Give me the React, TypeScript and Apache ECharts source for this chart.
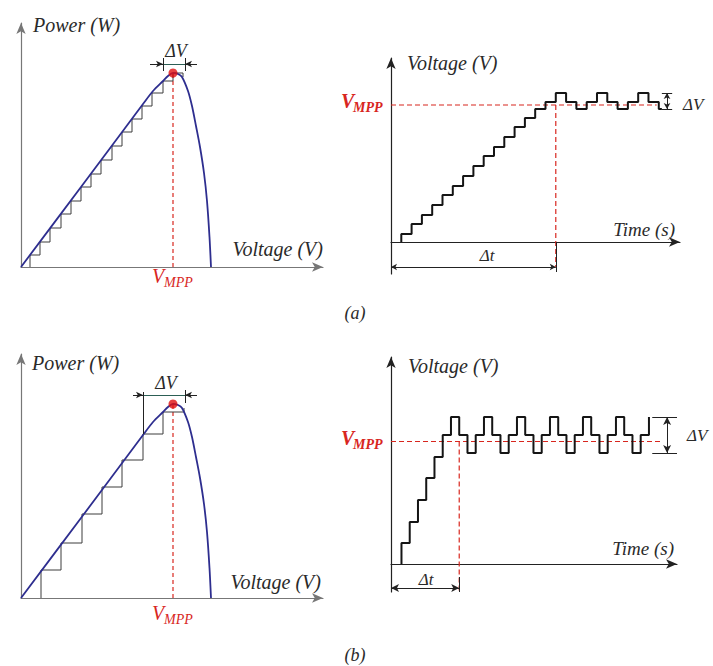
import React, { useEffect, useRef } from 'react';
import * as echarts from 'echarts';

// P–V characteristic of the PV source (voltage, power in arbitrary units)
const pvVoltage = [0, 6.0, 10.0, 12.2, 13.2, 14.2, 14.7, 15.2, 15.7, 16.1, 16.7, 17.1, 17.5, 17.9, 18.3, 18.6, 18.85, 19.0];
const pvPower = [0, 8.0, 13.35, 16.3, 17.6, 18.6, 19.1, 19.4, 19.3, 19.0, 17.6, 16.1, 14.1, 12.0, 9.4, 6.6, 3.0, 0];

// Maximum power point
const mppVoltage = 15.2;
const mppPower = 19.4;

// (a) small perturbation step: operating points climbing the P–V curve
const stairAVoltage = [0.9, 1.9, 2.9, 4.0, 5.0, 6.0, 7.0, 8.0, 9.1, 10.1, 11.1, 12.1, 13.1, 14.2, 15.2, 16.2];
const stairAPower = [1.2, 2.5, 3.9, 5.3, 6.6, 8.0, 9.3, 10.7, 12.1, 13.5, 14.8, 16.1, 17.4, 18.6, 19.4, 19.0];

// (b) large perturbation step
const stairBVoltage = [2.0, 4.0, 6.1, 8.1, 10.1, 12.2, 14.2, 16.3];
const stairBPower = [2.8, 5.5, 8.4, 11.1, 13.8, 16.4, 18.6, 19.0];

// (a) reference voltage versus time (sample index, voltage)
const waveATime = [1, 2, 3, 4, 5, 6, 7, 8, 9, 10, 11, 12, 13, 14, 15, 16, 17, 18, 19, 20, 21, 22, 23, 24, 25, 26, 26.3];
const waveALevel = [0.8, 1.8, 2.7, 3.7, 4.7, 5.6, 6.6, 7.6, 8.6, 9.5, 10.5, 11.5, 12.4, 13.3, 14.0, 14.9, 14.0, 13.3, 14.0, 14.9, 14.0, 13.3, 14.0, 14.9, 14.0, 13.3, 13.3];
const vmppLevelA = 13.7;
const settleTimeA = 16;

// (b) reference voltage versus time
const waveBTime = [1, 2, 3, 4, 5, 6, 7, 8, 9, 10, 11, 12, 13, 14, 15, 16, 17, 18, 19, 20, 21, 22, 23, 24, 25, 26, 27, 28, 29, 30, 31];
const waveBLevel = [2.1, 4.2, 6.4, 8.6, 10.7, 12.9, 14.7, 12.9, 11.1, 12.9, 14.7, 12.9, 11.1, 12.9, 14.7, 12.9, 11.1, 12.9, 14.7, 12.9, 11.1, 12.9, 14.7, 12.9, 11.1, 12.9, 14.7, 12.9, 11.1, 12.9, 14.7];
const vmppLevelB = 12.25;
const settleTimeB = 8;

const RED = '#d8261e';
const INK = '#2a2a2a';
const SERIF = '"Liberation Serif", "DejaVu Serif", serif';

const zip = (xs: number[], ys: number[]) => xs.map((x, i) => [x, ys[i]]);
const stairs = (xs: number[], ys: number[]) => [[xs[0], 0], ...zip(xs, ys)];

type Pt = [number, number];
const seg = (a: Pt, b: Pt, s0 = 'none', s1 = 'none', color = '#222', width = 1) => [
  { coord: a, symbol: s0, lineStyle: { color, width, type: 'solid' } },
  { coord: b, symbol: s1, lineStyle: { color, width, type: 'solid' } },
];

const annot = (idx: number, data: any[], size: number[] = [6, 8]) => ({
  type: 'line',
  xAxisIndex: idx,
  yAxisIndex: idx,
  data: [],
  silent: true,
  markLine: {
    silent: true,
    animation: false,
    symbolSize: size,
    label: { show: false },
    emphasis: { disabled: true },
    data,
  },
});

type TxtOpts = { size?: number; weight?: string; fill?: string; align?: string };
const txt = (text: string, x: number, y: number, opts: TxtOpts = {}) => ({
  type: 'text',
  x,
  y,
  silent: true,
  style: {
    text,
    fill: opts.fill || INK,
    font: `italic ${opts.weight || 'normal'} ${opts.size || 20}px ${SERIF}`,
    textAlign: opts.align || 'left',
    textVerticalAlign: 'middle',
  },
});

// V with an MPP subscript
const vmppLabel = (x: number, y: number, big: number, small: number, bold: boolean) => {
  const weight = bold ? 'bold' : 'normal';
  return [
    txt('V', x, y, { fill: RED, size: big, weight }),
    txt('MPP', x + big * 0.6, y + big * 0.32, { fill: RED, size: small, weight }),
  ];
};

const axisBase = (color: string, onZero: boolean) => ({
  type: 'value',
  axisTick: { show: false },
  axisLabel: { show: false },
  splitLine: { show: false },
  axisLine: {
    show: true,
    onZero,
    symbol: ['none', 'arrow'],
    symbolSize: [7, 11],
    lineStyle: { color, width: 1.2 },
  },
});

export default function App() {
  const ref = useRef<HTMLDivElement>(null);

  useEffect(() => {
    if (!ref.current) return;
    const chart = echarts.init(ref.current, null, { renderer: 'svg' });

    const pvCurve = zip(pvVoltage, pvPower);
    const curveSeries = (idx: number) => ({
      type: 'line',
      xAxisIndex: idx,
      yAxisIndex: idx,
      data: pvCurve,
      smooth: 0.3,
      symbol: 'none',
      z: 4,
      lineStyle: { color: '#2e2e8f', width: 1.8 },
    });
    const stairSeries = (idx: number, xs: number[], ys: number[]) => ({
      type: 'line',
      xAxisIndex: idx,
      yAxisIndex: idx,
      step: 'end',
      data: stairs(xs, ys),
      symbol: 'none',
      z: 3,
      lineStyle: { color: '#3c3c3c', width: 1 },
    });
    const mppDash = (idx: number) => ({
      type: 'line',
      xAxisIndex: idx,
      yAxisIndex: idx,
      data: [[mppVoltage, 0], [mppVoltage, mppPower]],
      symbol: 'none',
      z: 2,
      lineStyle: { color: RED, width: 1.2, type: [4, 3] },
    });
    const mppDot = (idx: number) => ({
      type: 'scatter',
      xAxisIndex: idx,
      yAxisIndex: idx,
      data: [[mppVoltage, mppPower]],
      symbolSize: 9,
      z: 6,
      itemStyle: { color: '#e01010' },
    });
    const waveSeries = (idx: number, ts: number[], vs: number[]) => ({
      type: 'line',
      xAxisIndex: idx,
      yAxisIndex: idx,
      step: 'end',
      data: stairs(ts, vs),
      symbol: 'none',
      z: 4,
      lineStyle: { color: '#151515', width: 2 },
    });
    const dashed = (idx: number, pts: number[][]) => ({
      type: 'line',
      xAxisIndex: idx,
      yAxisIndex: idx,
      data: pts,
      symbol: 'none',
      z: 2,
      lineStyle: { color: RED, width: 1.2, type: [5, 3] },
    });

    // ΔV indicator above the peak of the P–V panels
    const aLo = stairAVoltage[13];
    const aHi = stairAVoltage[15] + 0.2;
    const bLo = stairBVoltage[5];
    const bHi = stairBVoltage[7] + 0.1;
    const dvY = 20.3;

    const option: any = {
      animation: false,
      backgroundColor: '#fff',
      grid: [
        { left: 21, top: 23, width: 302, height: 244 },
        { left: 21, top: 354, width: 302, height: 244 },
        { left: 391, top: 58, width: 289, height: 216 },
        { left: 391, top: 357, width: 286, height: 235 },
      ],
      xAxis: [
        { ...axisBase('#777', true), gridIndex: 0, min: 0, max: 30.2 },
        { ...axisBase('#777', true), gridIndex: 1, min: 0, max: 30.2 },
        { ...axisBase('#222', true), gridIndex: 2, min: 0, max: 28.06 },
        { ...axisBase('#222', true), gridIndex: 3, min: -0.27, max: 34.4 },
      ],
      yAxis: [
        { ...axisBase('#777', false), gridIndex: 0, min: 0, max: 24.4 },
        { ...axisBase('#777', false), gridIndex: 1, min: 0, max: 24.4 },
        { ...axisBase('#222', false), gridIndex: 2, min: -3.2, max: 18.4 },
        { ...axisBase('#222', false), gridIndex: 3, min: -2.8, max: 20.7 },
      ],
      series: [
        // (a) P–V
        mppDash(0),
        stairSeries(0, stairAVoltage, stairAPower),
        curveSeries(0),
        mppDot(0),
        annot(0, [
          seg([12.9, dvY], [aLo, dvY], 'none', 'arrow'),
          seg([aHi + 1.2, dvY], [aHi, dvY], 'none', 'arrow'),
          seg([aLo, dvY], [aHi, dvY], 'none', 'none', '#2c5f55'),
          seg([aLo, 19.6], [aLo, 20.9]),
          seg([aHi, 19.6], [aHi, 20.9]),
        ], [5, 7]),
        // (b) P–V
        mppDash(1),
        stairSeries(1, stairBVoltage, stairBPower),
        curveSeries(1),
        mppDot(1),
        annot(1, [
          seg([bLo - 1.0, dvY], [bLo, dvY], 'none', 'arrow'),
          seg([bHi + 1.2, dvY], [bHi, dvY], 'none', 'arrow'),
          seg([bLo, dvY], [bHi, dvY], 'none', 'none', '#2c5f55'),
          seg([bLo, 16.4], [bLo, 20.6]),
          seg([bHi, 19.5], [bHi, 20.8]),
        ], [5, 7]),
        // (a) voltage versus time
        dashed(2, [[0, vmppLevelA], [25.8, vmppLevelA]]),
        dashed(2, [[settleTimeA, vmppLevelA], [settleTimeA, -2.5]]),
        waveSeries(2, waveATime, waveALevel),
        annot(2, [
          seg([0, -2.5], [settleTimeA, -2.5], 'arrow', 'arrow'),
          seg([settleTimeA, 0], [settleTimeA, -3.0]),
          seg([26.3, 14.9], [27.3, 14.9]),
          seg([26.3, 13.3], [27.3, 13.3]),
          seg([26.8, 13.3], [26.8, 14.9], 'arrow', 'arrow'),
        ], [5, 6]),
        // (b) voltage versus time
        dashed(3, [[-0.27, vmppLevelB], [32.4, vmppLevelB]]),
        dashed(3, [[settleTimeB, vmppLevelB], [settleTimeB, -2.8]]),
        waveSeries(3, waveBTime, waveBLevel),
        annot(3, [
          seg([-0.27, -2.4], [settleTimeB, -2.4], 'arrow', 'arrow'),
          seg([settleTimeB, -1.3], [settleTimeB, -2.8]),
          seg([31.4, 14.7], [34.4, 14.7]),
          seg([31.4, 11.1], [34.4, 11.1]),
          seg([33.2, 11.1], [33.2, 14.7], 'arrow', 'arrow'),
        ], [6, 8]),
      ],
      graphic: [
        // (a) P–V labels
        txt('Power (W)', 33, 25),
        txt('Voltage (V)', 323, 249, { align: 'right' }),
        txt('ΔV', 176, 51, { align: 'center', size: 18 }),
        ...vmppLabel(152, 276, 20, 14, false),
        // (b) P–V labels
        txt('Power (W)', 32, 363),
        txt('Voltage (V)', 321, 582, { align: 'right' }),
        txt('ΔV', 166, 383, { align: 'center', size: 18 }),
        ...vmppLabel(152, 613, 20, 14, false),
        // (a) voltage–time labels
        txt('Voltage (V)', 407, 63),
        txt('Time (s)', 675, 229, { align: 'right', size: 19 }),
        txt('ΔV', 683, 104, { size: 17 }),
        txt('Δt', 487, 255, { align: 'center', size: 17 }),
        ...vmppLabel(341, 101, 20, 14, true),
        // (b) voltage–time labels
        txt('Voltage (V)', 408, 366),
        txt('Time (s)', 674, 548, { align: 'right', size: 19 }),
        txt('ΔV', 687, 435, { size: 17 }),
        txt('Δt', 426, 579, { align: 'center', size: 17 }),
        ...vmppLabel(341, 438, 20, 14, true),
        // sub-figure captions
        txt('(a)', 355, 313, { align: 'center', size: 18 }),
        txt('(b)', 355, 655, { align: 'center', size: 18 }),
      ],
    };

    chart.setOption(option);
    return () => chart.dispose();
  }, []);

  return (
    <div
      ref={ref}
      style={{ position: 'absolute', left: 0, top: 0, width: 713, height: 666, background: '#fff' }}
    />
  );
}
